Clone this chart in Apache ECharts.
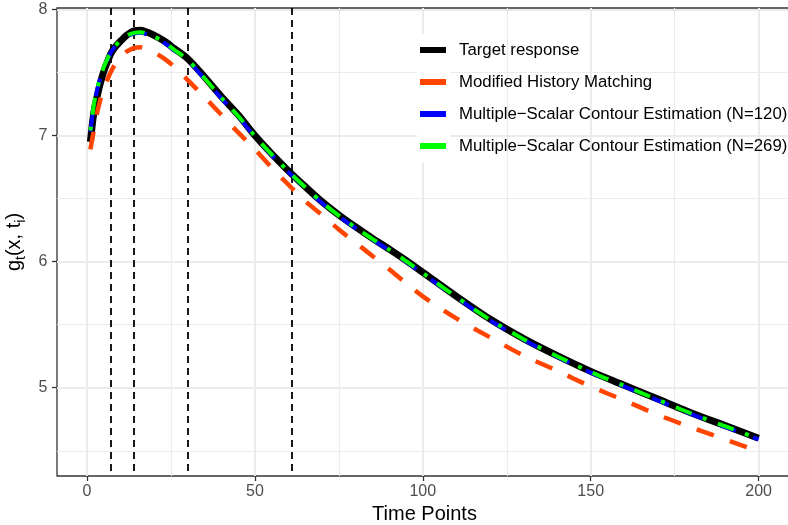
<!DOCTYPE html>
<html>
<head>
<meta charset="utf-8">
<script src="https://cdn.jsdelivr.net/npm/echarts@6/dist/echarts.min.js"></script>
<style>
  html, body { margin: 0; padding: 0; background: #fff; }
  #chart { width: 788px; height: 525px; }
</style>
</head>
<body>
<div id="chart"></div>
<script>
const times = [1, 2, 3, 4, 5, 6, 7, 8, 10, 12, 14, 16, 18, 20, 23, 26, 30, 35, 40, 45, 50,
  55, 60, 65, 70, 75, 80, 85, 90, 95, 100, 110, 120, 130, 140, 150, 160, 170, 180, 190, 200];

const target = [6.95, 7.18, 7.31, 7.42, 7.51, 7.58, 7.645, 7.69, 7.75, 7.80, 7.83, 7.835, 7.82, 7.795, 7.75, 7.69, 7.61, 7.465, 7.31, 7.165, 7.00,
  6.855, 6.72, 6.595, 6.475, 6.37, 6.275, 6.185, 6.10, 6.01, 5.915, 5.725, 5.545, 5.39, 5.255, 5.13, 5.02, 4.91, 4.80, 4.70, 4.60];

const historyMatching = [6.89, 7.04, 7.18, 7.29, 7.37, 7.44, 7.50, 7.55, 7.625, 7.67, 7.695, 7.70, 7.685, 7.66, 7.61, 7.545, 7.44, 7.305, 7.165, 7.025, 6.89,
  6.745, 6.61, 6.48, 6.37, 6.255, 6.15, 6.045, 5.94, 5.83, 5.725, 5.55, 5.40, 5.255, 5.135, 5.01, 4.90, 4.785, 4.685, 4.59, 4.495];

const contourN120 = [7.03, 7.23, 7.36, 7.46, 7.54, 7.60, 7.655, 7.695, 7.75, 7.79, 7.81, 7.815, 7.80, 7.78, 7.735, 7.675, 7.595, 7.45, 7.295, 7.15, 6.99,
  6.845, 6.71, 6.585, 6.465, 6.36, 6.265, 6.175, 6.09, 6.00, 5.905, 5.715, 5.535, 5.38, 5.245, 5.12, 5.01, 4.90, 4.79, 4.69, 4.59];

const contourN269 = [7.04, 7.24, 7.37, 7.465, 7.545, 7.605, 7.66, 7.70, 7.755, 7.795, 7.815, 7.82, 7.805, 7.785, 7.74, 7.68, 7.60, 7.455, 7.30, 7.155, 6.995,
  6.85, 6.715, 6.59, 6.47, 6.365, 6.27, 6.18, 6.095, 6.005, 5.91, 5.72, 5.54, 5.385, 5.25, 5.125, 5.015, 4.905, 4.795, 4.695, 4.595];

// vertical reference lines
const refTimes = [7, 14, 30, 61];

const xTicks = [0, 50, 100, 150, 200];
const xMinor = [25, 75, 125, 175];
const yTicks = [5, 6, 7, 8];
const yMinor = [4.5, 5.5, 6.5, 7.5];

const seriesNames = [
  "Target response",
  "Modified History Matching",
  "Multiple\u2212Scalar Contour Estimation (N=120)",
  "Multiple\u2212Scalar Contour Estimation (N=269)",
];

const pairs = (vals) => times.map((t, i) => [t, vals[i]]);

const chart = echarts.init(document.getElementById("chart"));

const xRange = { min: -8.95, max: 209.95 };
const yRange = { min: 4.30, max: 8.012 };

const hiddenAxis = (extra) => Object.assign({
  type: "value",
  axisLine: { show: false, onZero: false },
  axisLabel: { show: false },
}, extra);

const option = {
  animation: false,
  textStyle: { fontFamily: "Liberation Sans, Arial, sans-serif" },
  grid: {
    left: 57, top: 8, right: -4, bottom: 49,
    show: true,
    borderColor: "#333333",
    borderWidth: 1.3,
    containLabel: false,
    outerBoundsMode: "none",
  },
  legend: {
    orient: "vertical",
    left: 420,
    top: 40,
    padding: 0,
    itemGap: 12,
    itemWidth: 26,
    itemHeight: 6,
    icon: "rect",
    data: seriesNames,
    textStyle: {
      fontSize: 16.8,
      color: "#000",
      lineHeight: 20,
      padding: [0, 0, 0, 8],
    },
  },
  graphic: [
    {
      type: "rect",
      left: 417,
      top: 34,
      z: 1,
      shape: { width: 33, height: 129 },
      style: { fill: "#ffffff" },
    },
  ],
  xAxis: [
    {
      type: "value",
      ...xRange,
      name: "Time Points",
      nameLocation: "middle",
      nameGap: 27,
      nameTextStyle: { fontSize: 20, color: "#000" },
      axisLine: { show: false, onZero: false },
      axisTick: { customValues: xTicks, length: 5, lineStyle: { color: "#333333", width: 1.3 } },
      axisLabel: { customValues: xTicks, margin: 8, fontSize: 16, color: "#4D4D4D" },
      splitLine: { show: true, lineStyle: { color: "#EBEBEB", width: 2 } },
    },
    hiddenAxis({
      ...xRange,
      axisTick: { show: false, customValues: xMinor },
      splitLine: { show: true, lineStyle: { color: "#EBEBEB", width: 1.2 } },
    }),
    hiddenAxis({
      ...xRange,
      axisTick: { show: false, customValues: refTimes },
      splitLine: { show: true, lineStyle: { color: "#000", width: 1.8, type: [7, 5] } },
    }),
  ],
  yAxis: [
    {
      type: "value",
      ...yRange,
      name: "{m|g}{s|t}{m|(x, t}{s|i}{m|)}",
      nameLocation: "middle",
      nameRotate: 90,
      nameGap: 28,
      nameTextStyle: {
        rich: {
          m: { fontSize: 20, color: "#000", lineHeight: 26, verticalAlign: "middle" },
          s: { fontSize: 14, color: "#000", lineHeight: 14, verticalAlign: "bottom" },
        },
      },
      axisLine: { show: false, onZero: false },
      axisTick: { customValues: yTicks, length: 5, lineStyle: { color: "#333333", width: 1.3 } },
      axisLabel: { customValues: yTicks, margin: 9.5, fontSize: 16, color: "#4D4D4D" },
      splitLine: { show: true, lineStyle: { color: "#EBEBEB", width: 2 } },
    },
    hiddenAxis({
      ...yRange,
      axisTick: { show: false, customValues: yMinor },
      splitLine: { show: true, lineStyle: { color: "#EBEBEB", width: 1.2 } },
    }),
  ],
  series: [
    {
      name: seriesNames[0],
      type: "line",
      data: pairs(target),
      symbol: "none",
      smooth: 0.3,
      itemStyle: { color: "#000000" },
      lineStyle: { color: "#000000", width: 7 },
    },
    {
      name: seriesNames[1],
      type: "line",
      data: pairs(historyMatching),
      symbol: "none",
      smooth: 0.3,
      itemStyle: { color: "#FF4500" },
      lineStyle: { color: "#FF4500", width: 4.5, type: [18, 17] },
    },
    {
      name: seriesNames[2],
      type: "line",
      data: pairs(contourN120),
      symbol: "none",
      smooth: 0.3,
      itemStyle: { color: "#0000FF" },
      lineStyle: { color: "#0000FF", width: 4, type: [18, 18] },
    },
    {
      name: seriesNames[3],
      type: "line",
      data: pairs(contourN269),
      symbol: "none",
      smooth: 0.3,
      itemStyle: { color: "#00FF00" },
      lineStyle: { color: "#00FF00", width: 4, type: [4, 12, 17, 12] },
    },
  ],
};

chart.setOption(option);
</script>
</body>
</html>
